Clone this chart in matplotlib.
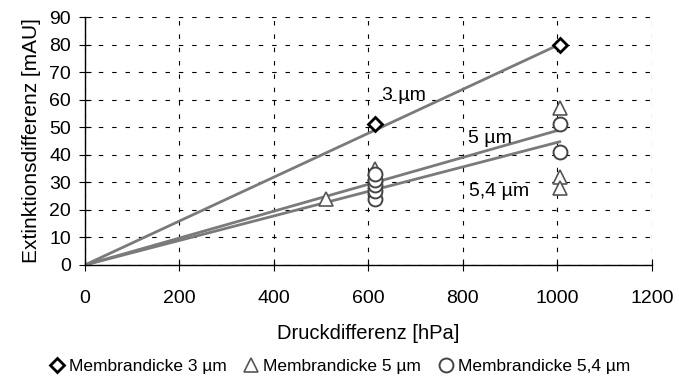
import numpy as np
import matplotlib
matplotlib.use("Agg")
import matplotlib.pyplot as plt

plt.rcParams['font.family'] = ['Liberation Sans', 'DejaVu Sans']

# measured points (Druckdifferenz hPa, Extinktionsdifferenz mAU)
x_3 = [615, 1005]
y_3 = [51, 80]

x_5 = [510, 615, 615, 615, 615, 1005, 1005, 1005]
y_5 = [24, 28, 30, 33, 35, 57, 32, 28]

x_54 = [615, 615, 615, 615, 615, 1005, 1005]
y_54 = [24, 27, 29, 31, 33, 51, 41]

# regression lines through origin (slopes)
slope_3 = 0.0797
slope_5 = 0.0488
slope_54 = 0.0445
line_x = [0, 1005]

fig = plt.figure(figsize=(6.79, 3.78), dpi=100)
ax = fig.add_axes([0.125, 0.299, 0.835, 0.656])

for s in (slope_3, slope_5, slope_54):
    ax.plot(line_x, [s * v for v in line_x], color='#7a7a7a', lw=2.0, zorder=2)

ax.plot(x_3, y_3, ls='', marker='D', ms=7, mfc='white', mec='black', mew=2,
        label='Membrandicke 3 µm', zorder=4)
ax.plot(x_5, y_5, ls='', marker='^', ms=10, mfc='white', mec='#555555', mew=1.2,
        label='Membrandicke 5 µm', zorder=3)
ax.plot(x_54, y_54, ls='', marker='o', ms=10, mfc='white', mec='#444444', mew=1.4,
        label='Membrandicke 5,4 µm', zorder=3)

ax.text(628, 61.5, '3 µm', fontsize=14, va='center')
ax.text(810, 46, '5 µm', fontsize=14, va='center')
ax.text(812, 26.5, '5,4 µm', fontsize=14, va='center')

ax.set_xlim(0, 1200)
ax.set_ylim(0, 90)
ax.set_xticks(np.arange(0, 1201, 200))
ax.set_yticks(np.arange(0, 91, 10))
ax.tick_params(labelsize=14, direction='inout', length=8, colors='black')
ax.tick_params(axis='y', pad=6)
ax.tick_params(axis='x', pad=14)
ax.grid(True, color='black', linestyle=(0, (4, 8)), linewidth=0.8)
ax.set_axisbelow(True)
for side in ('top', 'right'):
    ax.spines[side].set_visible(False)
ax.spines['left'].set_linewidth(1.0)
ax.spines['bottom'].set_linewidth(1.0)

ax.set_xlabel('Druckdifferenz [hPa]', fontsize=14.5, labelpad=12)
ax.set_ylabel('Extinktionsdifferenz [mAU]', fontsize=15, labelpad=6)

ax.legend(loc='center', bbox_to_anchor=(0.45, -0.41), ncol=3, frameon=False,
          fontsize=12.5, handlelength=0.8, handletextpad=0.3, columnspacing=1.0,
          borderaxespad=0, borderpad=0)

fig.savefig('out.png', dpi=100)
